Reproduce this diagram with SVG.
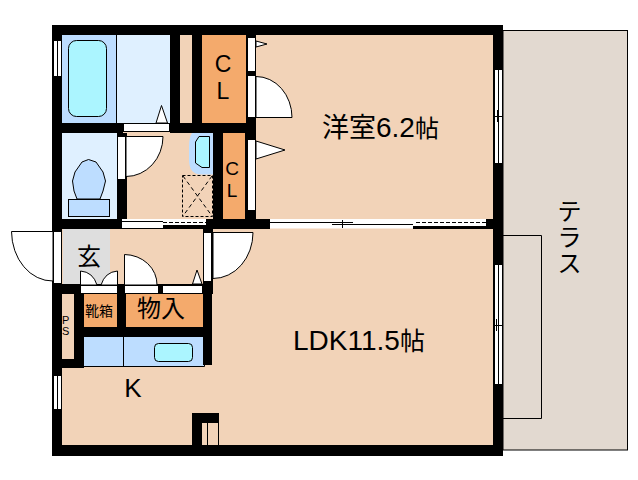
<svg xmlns="http://www.w3.org/2000/svg" width="638" height="480" viewBox="0 0 638 480">
<style>
.w{fill:#000;shape-rendering:crispEdges}
.p{fill:#f2d3b8}.o{fill:#f4aa6c}.lb{fill:#dff0ff}.mb{fill:#bdddff}.c{fill:#abf5ff}
.f{fill:#fff;stroke:#000;stroke-width:1}
.l{fill:none;stroke:#000;stroke-width:1}
.t{font-family:"Liberation Sans","Noto Sans CJK JP",sans-serif;fill:#000}
.m{text-anchor:middle}
</style>
<rect width="638" height="480" fill="#fff"/>
<g id="terrace">
<rect x="503" y="30.500" width="124.500" height="419.500" fill="#e2d9d0" stroke="#000" stroke-width="1"/>
<path class="l" d="M503 235.500H541.500V418.500H503"/>
<text class="t m" x="569.500" y="220" font-size="24">テ</text>
<text class="t m" x="569.500" y="246" font-size="24">ラ</text>
<text class="t m" x="569.500" y="272" font-size="24">ス</text>
</g>
<g id="floors" shape-rendering="crispEdges">
<rect class="p" x="56" y="30" width="440" height="420"/>
<rect class="mb" x="62" y="35" width="54" height="88"/>
<rect class="lb" x="116" y="35" width="54" height="88"/>
<rect class="lb" x="62" y="133" width="56" height="86"/>
<rect class="o" x="202" y="35" width="44" height="88"/>
<rect class="o" x="223" y="133" width="22" height="86"/>
<rect x="63" y="229" width="47" height="56" fill="#dedede"/>
<rect class="o" x="84" y="294" width="33" height="33"/>
<rect class="o" x="126" y="294" width="77" height="33"/>
<rect class="mb" x="84" y="337" width="120" height="29"/>
</g>
<g id="bath">
<rect class="c" x="68.500" y="40.500" width="38" height="76" rx="8" stroke="#000"/>
<path class="l" d="M116.500 35V123"/>
<path class="f" d="M156 123L161.500 105.500L167.500 123Z"/>
</g>
<g id="toilet">
<path fill="#bdddff" stroke="#000" d="M88.500 159.500L96 162L103 172L105.500 181L103 191L100 199H77L74 191L72.500 181L75 172L82 162Z"/>
<rect class="mb" x="68.500" y="199.500" width="41" height="17" stroke="#000"/>
</g>
<g id="washroom">
<path fill="#bdddff" d="M192 133H213V174.500H201Q189 174 189 160V146Q189 138 192 133Z"/>
<path class="c" stroke="#000" d="M199 136.500H209.500V167.500H202L195.500 163V142Z"/>
<rect x="182.500" y="175.500" width="30" height="41" fill="none" stroke="#000" stroke-dasharray="3 2"/>
<path class="l" stroke-dasharray="4 3" d="M183 176L212 216M212 176L183 216"/>
</g>
<g id="kitchen-counter">
<path class="l" d="M84 366.500H204.500V337M123.500 337V366"/>
<rect class="c" x="154.500" y="343.500" width="38" height="18" rx="4" stroke="#000"/>
</g>
<g id="walls" class="w">
<rect x="52" y="25" width="451" height="10"/>
<rect x="52" y="25" width="10" height="430"/>
<rect x="493" y="26" width="10" height="430"/>
<rect x="52" y="445" width="451" height="11"/>
<rect x="170" y="35" width="10" height="98"/>
<rect x="192" y="25" width="10" height="108"/>
<rect x="52" y="123" width="71" height="10"/>
<rect x="170" y="123" width="86" height="10"/>
<rect x="246" y="35" width="10" height="104"/>
<rect x="117" y="133" width="10" height="86"/>
<rect x="213" y="133" width="10" height="96"/>
<rect x="245" y="133" width="11" height="96"/>
<rect x="52" y="219" width="71" height="10"/>
<rect x="203" y="219" width="67" height="10"/>
<rect x="486" y="219" width="17" height="10"/>
<rect x="203" y="229" width="10" height="65"/>
<rect x="52" y="284" width="161" height="10"/>
<rect x="74" y="294" width="10" height="74"/>
<rect x="62" y="359" width="22" height="9"/>
<rect x="117" y="294" width="9" height="43"/>
<rect x="84" y="327" width="128" height="10"/>
<rect x="203" y="294" width="9" height="71"/>
<rect x="192" y="413" width="27" height="10"/>
<rect x="192" y="423" width="10" height="22"/>
</g>
<g id="column-detail">
<path class="l" d="M207.500 423V445M218.500 423V445"/>
</g>
<g id="doors-windows">
<rect class="f" x="53.500" y="40.500" width="8" height="36"/>
<path class="l" d="M57.500 40V77"/>
<rect class="f" x="123.500" y="123.500" width="46" height="8"/>
<rect class="f" x="247.500" y="37.500" width="8" height="34"/>
<rect class="f" x="247.500" y="75.500" width="8" height="42"/>
<rect class="f" x="247.500" y="139.500" width="8" height="71"/>
<rect class="f" x="117.500" y="136.500" width="8" height="43"/>
<path class="f" d="M256 41L267 44L256 47Z"/>
<path class="f" d="M256 76.500A36 41 0 0 1 292 117.500H256Z"/>
<path class="f" d="M256 141L285 150L256 159Z"/>
<path class="f" d="M126 136.500H163A37 40 0 0 1 126 176.500Z"/>
<rect class="f" x="494.500" y="69.500" width="8" height="94"/>
<path class="l" d="M498.500 69V164M494 116.500H503M497.500 110V122"/>
<rect class="f" x="494.500" y="264.500" width="8" height="120"/>
<path class="l" d="M498.500 264V385M494 325.500H503M496.500 319V331"/>
<rect class="f" x="53.500" y="375.500" width="8" height="34"/>
<path class="l" d="M57.500 375V410"/>
<rect x="122" y="219" width="41" height="9" fill="#fff"/>
<rect x="163" y="219" width="43" height="6" fill="#fff"/>
<rect x="121" y="228" width="42" height="1" class="w"/>
<rect x="163" y="225" width="43" height="4" class="w"/>
<path class="l" d="M121.500 219V229M122 221.500H163"/>
<path class="l" stroke-dasharray="4 2" d="M163 222.500H206"/>
<rect x="270" y="219" width="143" height="9.500" fill="#fff"/>
<rect x="413" y="219" width="73" height="7" fill="#fff"/>
<rect x="413" y="226" width="73" height="3" class="w"/>
<path class="l" d="M270 222.500H353M332 224.500H413M342.500 220V228"/>
<path class="l" stroke-dasharray="4 2" d="M416 222.500H486"/>
<rect class="f" x="53.500" y="231.500" width="8" height="52"/>
<path class="f" d="M53 231.500H11.500A41 50 0 0 0 53 281Z"/>
<rect class="f" x="203.500" y="232.500" width="8" height="49"/>
<path class="f" d="M213 232.500H253A40 46 0 0 1 213 278.500Z"/>
<rect class="f" x="80.500" y="285.500" width="37" height="8"/>
<rect class="f" x="124.500" y="285.500" width="34" height="8"/>
<rect class="f" x="162.500" y="285.500" width="40" height="8"/>
<path class="f" d="M80.500 285V271Q93 272 97 285Z"/>
<path class="f" d="M117.500 285V271Q105 272 101 285Z"/>
<path class="f" d="M124.500 285V254.500A33 30 0 0 1 157 285Z"/>
<path class="f" d="M192.500 284L197 270L202 284Z"/>
</g>
<g id="labels">
<text class="t" x="322" y="137" font-size="27">洋室<tspan font-size="28">6.2</tspan><tspan font-size="24">帖</tspan></text>
<text class="t" x="293" y="349.500" font-size="28">LDK11.5<tspan font-size="25">帖</tspan></text>
<text class="t m" x="223" y="72" font-size="23">C</text>
<text class="t m" x="223" y="99" font-size="23">L</text>
<text class="t m" x="232" y="175" font-size="19">C</text>
<text class="t m" x="232" y="197" font-size="19">L</text>
<text class="t m" x="89" y="265" font-size="24">玄</text>
<text class="t m" x="99" y="316" font-size="14">靴箱</text>
<text class="t m" x="161" y="317" font-size="24">物入</text>
<text class="t" x="62" y="324" font-size="11" fill="#600040">P</text>
<text class="t" x="62" y="335" font-size="11">S</text>
<text class="t m" x="133" y="397" font-size="26">K</text>
</g>
</svg>
